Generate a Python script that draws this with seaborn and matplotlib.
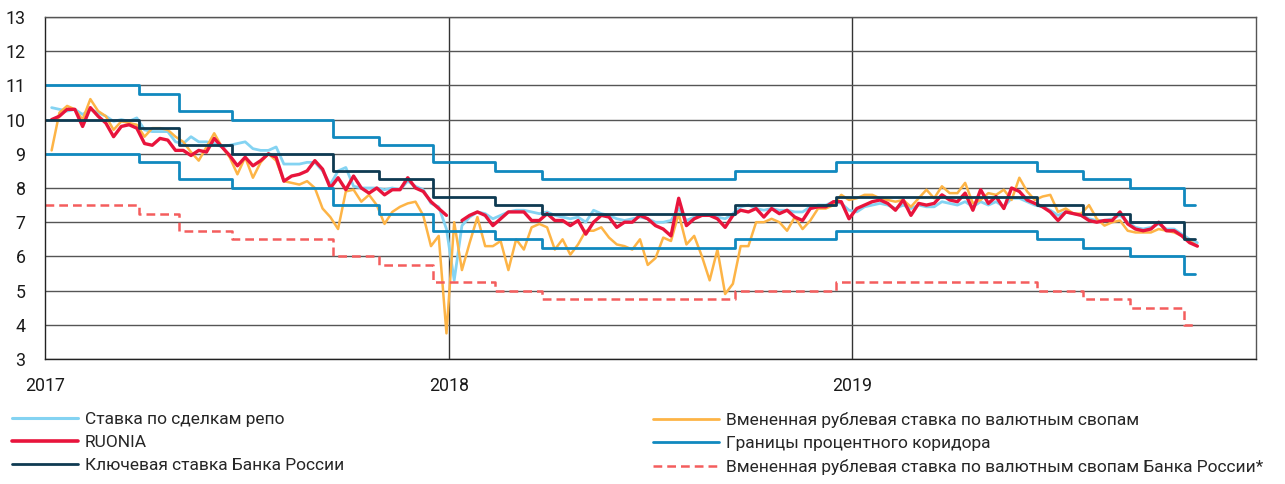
import numpy as np
import pandas as pd
import matplotlib
matplotlib.use('Agg')
import matplotlib.pyplot as plt
import seaborn as sns
from matplotlib.lines import Line2D

# ── DATA (weekly readings, % p.a.) ─────────────────────────
week_start = '2017-01-07'

ruonia = [10.0, 10.1, 10.3, 10.3, 9.8, 10.35, 10.1, 9.9, 9.5, 9.8,
          9.85, 9.75, 9.3, 9.25, 9.45, 9.4, 9.1, 9.1, 8.95, 9.1,
          9.05, 9.45, 9.2, 8.95, 8.65, 8.9, 8.65, 8.8, 9.0, 8.9,
          8.2, 8.35, 8.4, 8.5, 8.8, 8.55, 8.0, 8.3, 7.95, 8.35,
          8.0, 7.85, 8.0, 7.8, 7.95, 7.95, 8.3, 8.0, 7.9, 7.6,
          7.4, 7.2, np.nan, 7.05, 7.2, 7.3, 7.2, 6.9, 7.1, 7.3,
          7.3, 7.3, 7.05, 7.05, 7.25, 7.05, 7.05, 6.9, 7.05, 6.65,
          7.0, 7.2, 7.15, 6.85, 7.0, 7.0, 7.2, 7.1, 6.9, 6.8,
          6.6, 7.7, 6.9, 7.1, 7.2, 7.2, 7.1, 6.85, 7.2, 7.35,
          7.3, 7.4, 7.15, 7.4, 7.25, 7.35, 7.15, 7.05, 7.4, 7.45,
          7.45, 7.6, 7.6, 7.1, 7.4, 7.5, 7.6, 7.65, 7.55, 7.35,
          7.65, 7.2, 7.55, 7.5, 7.55, 7.8, 7.65, 7.6, 7.85, 7.35,
          7.95, 7.55, 7.75, 7.4, 8.0, 7.9, 7.65, 7.55, 7.45, 7.3,
          7.05, 7.3, 7.25, 7.2, 7.05, 7.0, 7.05, 7.05, 7.3, 6.95,
          6.8, 6.75, 6.8, 7.0, 6.75, 6.75, 6.6, 6.4, 6.3]

repo = [10.35, 10.3, 10.25, 10.3, 10.15, 10.3, 10.2, 10.1, 9.95, 10.0,
        9.95, 10.05, 9.7, 9.65, 9.65, 9.65, 9.35, 9.3, 9.5, 9.35,
        9.35, 9.3, 9.2, 9.25, 9.3, 9.35, 9.15, 9.1, 9.1, 9.2,
        8.7, 8.7, 8.7, 8.75, 8.75, 8.5, 8.1, 8.5, 8.6, 8.05,
        8.0, 8.0, 8.0, 7.95, 8.0, 7.95, 8.2, 8.05, 7.95, 7.55,
        7.45, 6.8, 5.3, 6.9, 7.15, 7.3, 7.25, 7.1, 7.2, 7.3,
        7.35, 7.35, 7.3, 7.25, 7.3, 7.2, 7.15, 7.1, 7.15, 7.0,
        7.35, 7.25, 7.2, 7.1, 7.05, 7.1, 7.15, 7.1, 7.0, 7.0,
        7.05, 7.4, 7.05, 7.15, 7.2, 7.2, 7.15, 7.1, 7.25, 7.45,
        7.5, 7.4, 7.35, 7.4, 7.35, 7.35, 7.3, 7.3, 7.45, 7.5,
        7.5, 7.6, 7.55, 7.35, 7.3, 7.45, 7.5, 7.55, 7.5, 7.4,
        7.5, 7.4, 7.5, 7.45, 7.45, 7.6, 7.55, 7.5, 7.6, 7.45,
        7.6, 7.5, 7.6, 7.45, 7.7, 7.7, 7.6, 7.5, 7.45, 7.35,
        7.2, 7.3, 7.25, 7.2, 7.1, 7.05, 7.05, 7.1, 7.2, 7.0,
        6.85, 6.8, 6.85, 6.95, 6.8, 6.8, 6.65, 6.5, 6.4]

swap = [9.1, 10.2, 10.4, 10.3, 10.0, 10.6, 10.25, 10.1, 9.7, 9.95,
        9.9, 9.85, 9.5, 9.75, 9.75, 9.7, 9.5, 9.35, 9.05, 8.8,
        9.2, 9.6, 9.2, 8.9, 8.4, 8.9, 8.3, 8.75, 9.0, 8.8,
        8.2, 8.15, 8.1, 8.2, 8.0, 7.4, 7.15, 6.8, 7.9, 7.95,
        7.6, 7.8, 7.5, 6.95, 7.3, 7.45, 7.55, 7.6, 7.2, 6.3,
        6.6, 3.75, 7.0, 5.6, 6.4, 7.15, 6.3, 6.3, 6.45, 5.6,
        6.5, 6.2, 6.85, 6.95, 6.85, 6.2, 6.5, 6.05, 6.35, 6.75,
        6.75, 6.85, 6.55, 6.35, 6.3, 6.2, 6.5, 5.75, 5.95, 6.55,
        6.45, 7.25, 6.35, 6.6, 6.0, 5.3, 6.2, 4.9, 5.2, 6.3,
        6.3, 7.0, 7.0, 7.1, 7.0, 6.75, 7.15, 6.8, 7.05, 7.4,
        7.4, 7.5, 7.8, 7.65, 7.7, 7.8, 7.8, 7.7, 7.65, 7.6,
        7.65, 7.45, 7.7, 7.95, 7.7, 8.05, 7.85, 7.85, 8.15, 7.55,
        7.65, 7.85, 7.8, 7.95, 7.65, 8.3, 7.9, 7.65, 7.75, 7.8,
        7.3, 7.4, 7.25, 7.25, 7.5, 7.1, 6.9, 7.0, 7.05, 6.75,
        6.7, 6.7, 6.7, 6.8, 6.75, 6.7, 6.6, 6.45, 6.3]

# policy decisions (step series)
step_dates = ['2017-01-01', '2017-03-27', '2017-05-02', '2017-06-19', '2017-09-18',
              '2017-10-30', '2017-12-18', '2018-02-12', '2018-03-26', '2018-09-17',
              '2018-12-17', '2019-06-17', '2019-07-29', '2019-09-09', '2019-10-28',
              '2019-11-07']
key_rate = [10.0, 9.75, 9.25, 9.0, 8.5, 8.25, 7.75, 7.5, 7.25, 7.5,
            7.75, 7.5, 7.25, 7.0, 6.5, 6.5]
corridor_up = [11.0, 10.75, 10.25, 10.0, 9.5, 9.25, 8.75, 8.5, 8.25, 8.5,
               8.75, 8.5, 8.25, 8.0, 7.5, 7.5]
corridor_low = [9.0, 8.75, 8.25, 8.0, 7.5, 7.25, 6.75, 6.5, 6.25, 6.5,
                6.75, 6.5, 6.25, 6.0, 5.5, 5.5]
swap_cbr = [7.5, 7.25, 6.75, 6.5, 6.0, 5.75, 5.25, 5.0, 4.75, 5.0,
            5.25, 5.0, 4.75, 4.5, 4.0, 4.0]

years = ['2017', '2018', '2019']
labels = ['Ставка по сделкам репо', 'RUONIA', 'Ключевая ставка Банка России',
          'Вмененная рублевая ставка по валютным свопам',
          'Границы процентного коридора',
          'Вмененная рублевая ставка по валютным свопам Банка России*']

# ── COLOURS ────────────────────────────────────────────────
c_repo = '#84d3f2'
c_ruonia = '#e8143c'
c_key = '#0e3a52'
c_swap = '#fdb446'
c_corr = '#1089bf'
c_cbr = '#f45d5d'

# ── FRAMES ─────────────────────────────────────────────────
df = pd.DataFrame({'date': pd.date_range(week_start, periods=len(ruonia), freq='7D'),
                   'repo': repo, 'ruonia': ruonia, 'swap': swap})
df['seg'] = df['ruonia'].isna().cumsum()
steps = pd.DataFrame({'date': pd.to_datetime(step_dates), 'key': key_rate,
                      'up': corridor_up, 'low': corridor_low, 'cbr': swap_cbr})

sns.set_style('white')
plt.rcParams['font.family'] = ['Roboto', 'DejaVu Sans']

fig = plt.figure(figsize=(12.85, 4.84), dpi=100)
ax = fig.add_axes([45 / 1285, 1 - 359 / 484, (1256 - 45) / 1285, (359 - 17) / 484])

# ── LINES ──────────────────────────────────────────────────
sns.lineplot(data=df, x='date', y='repo', color=c_repo, lw=2.0, ax=ax,
             estimator=None, legend=False)
sns.lineplot(data=df, x='date', y='swap', color=c_swap, lw=1.8, ax=ax,
             estimator=None, legend=False)
sns.lineplot(data=df.dropna(subset=['ruonia']), x='date', y='ruonia', units='seg',
             color=c_ruonia, lw=2.4, ax=ax, estimator=None, legend=False)
for col, colr in [('up', c_corr), ('low', c_corr), ('key', c_key)]:
    sns.lineplot(data=steps, x='date', y=col, color=colr, lw=2.0, ax=ax,
                 drawstyle='steps-post', estimator=None, legend=False)
sns.lineplot(data=steps, x='date', y='cbr', color=c_cbr, lw=1.8, ax=ax,
             drawstyle='steps-post', linestyle=(0, (3.5, 2)), estimator=None,
             legend=False)

# ── AXES ───────────────────────────────────────────────────
ax.set_xlim(pd.Timestamp('2017-01-01'), pd.Timestamp('2020-01-01'))
ax.set_ylim(3, 13)
ax.set_yticks(range(3, 14))
ax.set_xticks(pd.to_datetime([y + '-01-01' for y in years]))
ax.set_xticklabels(years)
ax.set_xlabel('')
ax.set_ylabel('')
ax.grid(axis='y', color='#555555', lw=1.0)
ax.set_axisbelow(True)
for y in ['2018', '2019']:
    ax.axvline(pd.Timestamp(y + '-01-01'), color='#333333', lw=1.0, zorder=0.5)
ax.tick_params(axis='both', length=0, labelsize=12.8, colors='#1a1a1a')
ax.tick_params(axis='y', pad=14)
ax.tick_params(axis='x', pad=13)
for s in ['top', 'right']:
    ax.spines[s].set_color('#555555')
ax.spines['left'].set_color('#222222')
ax.spines['bottom'].set_color('#222222')
for s in ax.spines.values():
    s.set_linewidth(1.0)

# ── LEGEND ─────────────────────────────────────────────────
h = [Line2D([], [], color=c_repo, lw=2.2),
     Line2D([], [], color=c_ruonia, lw=2.6),
     Line2D([], [], color=c_key, lw=2.0),
     Line2D([], [], color=c_swap, lw=2.0),
     Line2D([], [], color=c_corr, lw=2.0),
     Line2D([], [], color=c_cbr, lw=1.8, linestyle=(0, (3.5, 2)))]
kw = dict(loc='upper left', frameon=False, fontsize=12.5, handlelength=3.8,
          handletextpad=0.4, labelspacing=0.45, borderpad=0, borderaxespad=0)
fig.legend(h[:3], labels[:3], bbox_to_anchor=(12 / 1285, 1 - 412 / 484), **kw)
fig.legend(h[3:], labels[3:], bbox_to_anchor=(653 / 1285, 1 - 412 / 484), **kw)

fig.savefig('out.png', dpi=100)
